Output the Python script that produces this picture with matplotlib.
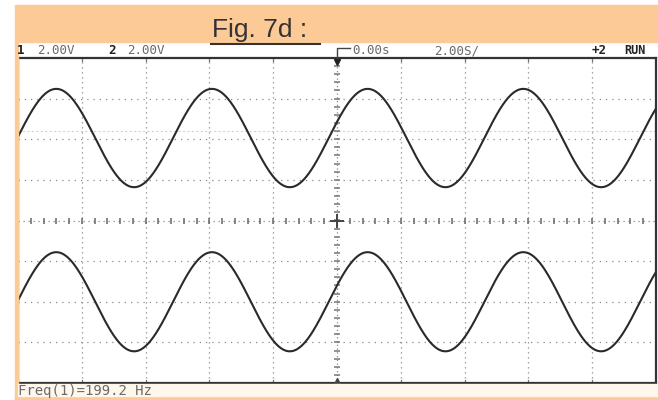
import numpy as np
import matplotlib
matplotlib.use("Agg")
import matplotlib.pyplot as plt
from matplotlib.patches import Rectangle

W, H = 658, 400

# scope settings
volts_per_div = [2.0, 2.0]
ms_per_div = 2.0
n_xdiv, n_ydiv = 10, 8

# measured traces (channel 1 top, channel 2 bottom)
trace_offset_div = [2.03, -2.0]
trace_amplitude_v = [2.42, 2.44]
trace_period_ms = [4.88, 4.88]
trace_peak_ms = [-8.8, -8.8]

header_left = ["2.00V", "2.00V"]
header_delay = "0.00s"
header_timebase = "2.00S/"
freq_label = "Freq(1)=199.2 Hz"
title = "Fig. 7d :"

orange = "#fcca96"
grid_col = "#8a8a8a"
text_col = "#6a6a6a"


def fx(px):
    return px / W


def fy(py):
    return 1 - py / H


fig = plt.figure(figsize=(W / 100, H / 100), dpi=100)
fig.patch.set_facecolor("white")

# orange frame around the screenshot
fig.patches.append(Rectangle((fx(15), fy(42)), fx(643), 37 / H, transform=fig.transFigure,
                             color=orange, zorder=0))
fig.patches.append(Rectangle((fx(15), fy(400)), fx(3), 358 / H, transform=fig.transFigure,
                             color=orange, zorder=0))
fig.patches.append(Rectangle((fx(15), fy(400)), fx(643), 4 / H, transform=fig.transFigure,
                             color=orange, zorder=0))
fig.patches.append(Rectangle((fx(18), fy(396)), fx(640), 12 / H, transform=fig.transFigure,
                             color="#fff6ec", zorder=0))

ax = fig.add_axes([fx(18), fy(383), fx(638), 325 / H])
ax.set_xlim(0, n_xdiv)
ax.set_ylim(-n_ydiv / 2, n_ydiv / 2)
ax.set_xticks([])
ax.set_yticks([])
for s in ax.spines.values():
    s.set_color("#333333")
    s.set_linewidth(1.6)

# dotted graticule
for i in range(1, n_xdiv):
    if i != n_xdiv // 2:
        ax.axvline(i, color=grid_col, lw=0.9, ls=(0, (1, 3)), zorder=1)
for j in range(-n_ydiv // 2 + 1, n_ydiv // 2):
    if j != 0:
        ax.axhline(j, color=grid_col, lw=0.9, ls=(0, (1, 4)), zorder=1)

# centre axes with minor ticks
ax.axhline(0, color=grid_col, lw=0.9, ls=(0, (1, 3)), zorder=1)
ax.axvline(5, color=grid_col, lw=0.9, ls=(0, (1, 2)), zorder=1)
mx = np.arange(0.2, n_xdiv, 0.2)
my = np.arange(-n_ydiv / 2 + 0.2, n_ydiv / 2, 0.2)
ax.plot(mx, np.zeros_like(mx), ls="none", marker="|", ms=5, mew=1.1, color="#666666", zorder=2)
ax.plot(np.full_like(my, 5), my, ls="none", marker="_", ms=5, mew=1.1, color="#777777", zorder=2)
ax.plot([5], [0], marker="+", ms=10, mew=1.4, color="#444444", zorder=2)
ax.plot([5], [n_ydiv / 2 - 0.1], marker="v", ms=5, color="#222222", zorder=3, clip_on=False)
ax.plot([5], [-n_ydiv / 2 + 0.05], marker="^", ms=4, color="#444444", zorder=3)
# small ticks at edges
for i in range(1, n_xdiv):
    ax.plot([i, i], [n_ydiv / 2, n_ydiv / 2 - 0.08], color="#777777", lw=0.9)
    ax.plot([i, i], [-n_ydiv / 2, -n_ydiv / 2 + 0.08], color="#777777", lw=0.9)

# faint orange artefact line
ax.axhline(2.2, color="#f6c9a0", lw=0.8, ls=(0, (2, 2)), zorder=1)

# traces
t = np.linspace(-ms_per_div * n_xdiv / 2, ms_per_div * n_xdiv / 2, 1200)
xdiv = t / ms_per_div + n_xdiv / 2
for ch in range(2):
    v = trace_amplitude_v[ch] * np.cos(2 * np.pi * (t - trace_peak_ms[ch]) / trace_period_ms[ch])
    ax.plot(xdiv, trace_offset_div[ch] + v / volts_per_div[ch], color="#2a2a2a", lw=1.5, zorder=4)

# header line
mono = dict(family="DejaVu Sans Mono", fontsize=9, color=text_col, va="center")
dark = {**mono, "color": "#222222"}
fig.text(fx(17), fy(51), "1", fontweight="bold", **dark)
fig.text(fx(37), fy(51), header_left[0], **mono)
fig.text(fx(108), fy(51), "2", fontweight="bold", **dark)
fig.text(fx(127), fy(51), header_left[1], **mono)
fig.text(fx(352), fy(51), header_delay, **mono)
fig.text(fx(434), fy(51), header_timebase, **mono)
fig.text(fx(592), fy(51), "+2", fontweight="bold", **dark)
fig.text(fx(624), fy(51), "RUN", fontweight="bold", **{**dark, "fontsize": 8.5})
fig.lines.append(plt.Line2D([fx(337), fx(337), fx(350)], [fy(58), fy(48), fy(48)],
                            transform=fig.transFigure, color="#444444", lw=1))

# title
fig.text(fx(212), fy(37), title, family="Liberation Sans", fontsize=19, color="#333333", va="baseline")
fig.lines.append(plt.Line2D([fx(211), fx(320)], [fy(44), fy(44)], transform=fig.transFigure,
                            color="#333333", lw=1.5))

# footer
fig.text(fx(18), fy(391), freq_label, **{**mono, "fontsize": 10})

fig.savefig("out.png", dpi=100)
